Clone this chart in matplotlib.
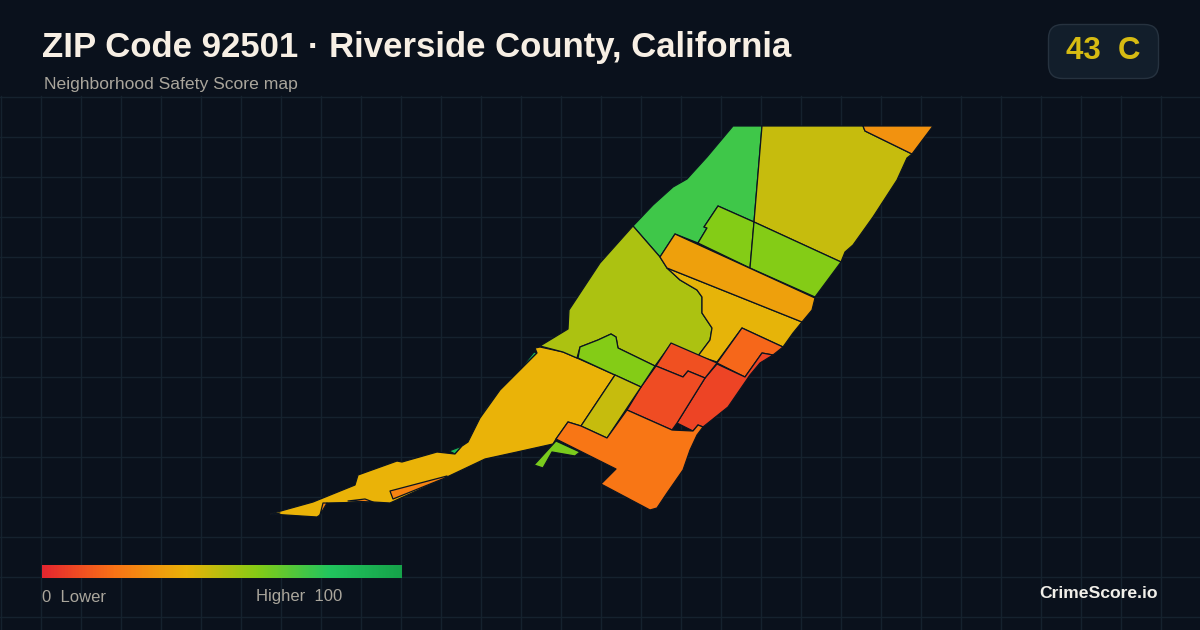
import numpy as np
import matplotlib
matplotlib.use("Agg")
import matplotlib.pyplot as plt
from matplotlib.colors import LinearSegmentedColormap
from matplotlib.patches import FancyBboxPatch, Polygon

plt.rcParams['font.family'] = ['Liberation Sans', 'DejaVu Sans']

BG = '#0a111c'
GRID = '#15222e'

title = 'ZIP Code 92501 · Riverside County, California'
subtitle = 'Neighborhood Safety Score map'
overall_score = 43
overall_grade = 'C'

# score scale
scale_stops = [0.0, 0.2, 0.4, 0.6, 0.8, 1.0]
scale_colors = ['#e5262f', '#f97316', '#eab308', '#84cc16', '#22c55e', '#16a34a']

# neighbourhood outlines, with their scores
north_green = [(733,126),(762,126),(754,222),(718,206),(704,227),(707,228),(698,243),(675,234),(660,257),(633,226),(653,205),(673,187),(687,179),(707,157)]
north_yellow = [(762,126),(863,126),(865,131),(912,154),(907,158),(897,180),(873,217),(853,245),(845,252),(841,262),(754,222)]
north_orange = [(863,126),(933,126),(912,154),(865,131)]
lime_west = [(718,206),(754,222),(750,268),(698,243),(707,228),(704,227)]
lime_east = [(754,222),(841,262),(815,297),(750,268)]
band_orange = [(675,234),(815,298),(812,310),(802,322),(667,268),(660,257)]
west_olive = [(633,226),(660,257),(667,268),(680,280),(697,290),(702,297),(702,313),(712,328),(710,340),(698,356),(671,344),(655,366),(618,348),(616,337),(611,334),(598,340),(580,347),(577,358),(563,352),(540,346),(568,329),(569,310),(600,263)]
central_yellow = [(667,268),(802,322),(793,333),(783,347),(742,328),(717,362),(698,356),(710,340),(712,328),(702,313),(702,297),(697,290),(680,280)]
east_orange = [(742,328),(783,347),(773,355),(762,353),(745,377),(717,363)]
east_red = [(717,364),(745,377),(762,353),(773,355),(760,363),(750,375),(728,407),(703,427),(698,425),(693,431),(677,423),(705,378)]
core_upper = [(671,343),(717,363),(705,378),(688,371),(683,377),(656,366)]
core_lower = [(656,366),(683,377),(688,371),(705,378),(677,423),(672,430),(627,410),(641,387)]
mid_lime = [(580,347),(598,340),(611,334),(616,337),(618,348),(655,366),(641,387),(615,375),(578,358)]
mid_olive = [(615,375),(641,387),(607,438),(581,426)]
south_orange = [(568,422),(581,426),(607,438),(627,410),(672,430),(693,431),(698,425),(703,427),(697,435),(690,450),(683,470),(667,493),(657,508),(650,510),(601,484),(616,469),(556,439)]
south_lime = [(556,441),(580,452),(575,456),(552,452),(543,468),(534,465)]
southwest_yellow = [(535,348),(540,347),(563,352),(577,358),(615,375),(581,426),(568,422),(556,439),(553,444),(517,452),(485,459),(447,477),(390,503),(373,502),(327,503),(320,515),(317,517),(270,514),(313,502),(355,485),(358,475),(397,461),(402,462),(437,452),(455,454),(462,446),(468,442),(480,418),(500,390),(517,373),(537,353)]
teal_a = [(449,451),(462,446),(455,454)]
teal_b = [(480,417),(493,398),(485,414)]
teal_c = [(517,373),(534,352),(537,353)]
sliver_a = [(390,491),(447,476),(445,478),(393,499)]
sliver_b = [(320,515),(323,503),(327,503)]
sliver_c = [(270,514),(280,513),(273,515)]
sliver_d = [(348,501),(365,499),(373,502)]

regions = [teal_a, teal_b, teal_c, southwest_yellow, sliver_a, sliver_b, sliver_c, sliver_d,
           north_green, north_yellow, north_orange, lime_west, lime_east, west_olive,
           central_yellow, band_orange, east_orange, east_red, core_upper, core_lower,
           mid_lime, mid_olive, south_lime, south_orange]
scores = [88, 88, 88, 40, 25, 25, 25, 25,
          74, 47, 30, 60, 60, 52,
          41, 34, 17, 8, 11, 10,
          60, 47, 62, 21]

cmap = LinearSegmentedColormap.from_list('safety', list(zip(scale_stops, scale_colors)))

fig = plt.figure(figsize=(12, 6.3), dpi=100, facecolor=BG)
ax = fig.add_axes([0, 0, 1, 1])
ax.set_facecolor(BG)

# background grid stops under the header
for gx in np.arange(0, 1201, 40):
    ax.plot([gx + 0.5, gx + 0.5], [96, 630], color=GRID, lw=1, zorder=1)
for gy in np.arange(96, 631, 40):
    ax.plot([0, 1200], [gy + 0.5, gy + 0.5], color=GRID, lw=1, zorder=1)

for outline, score in zip(regions, scores):
    ax.add_patch(Polygon(outline, closed=True, facecolor=cmap(score / 100), edgecolor='#0b1420',
                         lw=0.9, joinstyle='round', zorder=3))

ax.text(42, 48, title, color='#f7efe4', fontsize=25, fontweight='bold', va='center', ha='left', zorder=5)
ax.text(44, 85, subtitle, color='#aaa69c', fontsize=12.6, va='center', ha='left', zorder=5)

# score badge
ax.add_patch(FancyBboxPatch((1060, 36), 86, 30, boxstyle='round,pad=0,rounding_size=1', lw=0, fc='none'))
ax.add_patch(FancyBboxPatch((1048.5, 24.5), 110, 54, boxstyle='round,pad=0,rounding_size=14',
                            fc='#121e2b', ec='#26323f', lw=1, zorder=4))
ax.text(1103, 51, f'{overall_score}  {overall_grade}', color='#d6bb12', fontsize=22.5, fontweight='bold',
        va='center', ha='center', zorder=5)

# legend
ax.imshow(np.linspace(0, 1, 360).reshape(1, -1), cmap=cmap, extent=(42, 402, 578, 565),
          aspect='auto', zorder=4, vmin=0, vmax=1)
ax.text(42, 597, '0  Lower', color='#aaa69c', fontsize=12, va='center', ha='left', zorder=5)
ax.text(342, 597, 'Higher  100', color='#aaa69c', fontsize=12, va='center', ha='right', zorder=5)
ax.text(1158, 593, 'CrimeScore.io', color='#f1efe9', fontsize=12.6, fontweight='bold', va='center', ha='right', zorder=5)

ax.set_xlim(0, 1200)
ax.set_ylim(630, 0)
ax.axis('off')

fig.savefig('out.png', dpi=100, facecolor=BG)
